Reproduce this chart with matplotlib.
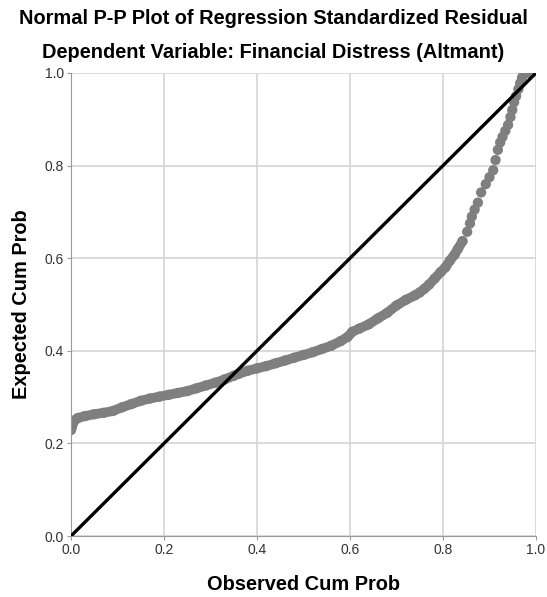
import numpy as np
import matplotlib
matplotlib.use("Agg")
import matplotlib.pyplot as plt

plt.rcParams['font.family'] = ['Liberation Sans', 'DejaVu Sans']

# observed vs expected cumulative probabilities
observed = [0.000, 0.002, 0.004, 0.008, 0.015, 0.03, 0.05, 0.07, 0.09, 0.11,
            0.13, 0.15, 0.17, 0.19, 0.21, 0.23, 0.25, 0.27, 0.29, 0.31,
            0.33, 0.35, 0.36, 0.38, 0.40, 0.42, 0.44, 0.46, 0.48, 0.50,
            0.52, 0.54, 0.56, 0.58, 0.595, 0.605, 0.62, 0.64, 0.66, 0.68,
            0.70, 0.72, 0.74, 0.75, 0.76, 0.770, 0.782, 0.795, 0.805, 0.815,
            0.825, 0.832, 0.842, 0.852, 0.858, 0.862, 0.868, 0.875, 0.882, 0.892,
            0.900, 0.908, 0.913, 0.918, 0.923, 0.928, 0.934, 0.940, 0.945, 0.949,
            0.953, 0.957, 0.962, 0.966, 0.970, 0.974, 0.980, 0.985]
expected = [0.229, 0.236, 0.243, 0.250, 0.255, 0.259, 0.263, 0.266, 0.270, 0.278,
            0.285, 0.292, 0.297, 0.301, 0.305, 0.309, 0.313, 0.319, 0.325, 0.331,
            0.338, 0.346, 0.350, 0.357, 0.362, 0.367, 0.373, 0.379, 0.385, 0.391,
            0.397, 0.404, 0.411, 0.421, 0.430, 0.441, 0.448, 0.457, 0.470, 0.482,
            0.498, 0.510, 0.520, 0.526, 0.534, 0.543, 0.556, 0.570, 0.580, 0.595,
            0.608, 0.620, 0.637, 0.657, 0.675, 0.690, 0.705, 0.720, 0.742, 0.760,
            0.775, 0.790, 0.812, 0.834, 0.850, 0.862, 0.875, 0.888, 0.905, 0.920,
            0.937, 0.950, 0.965, 0.978, 0.990, 1.000, 1.000, 1.000]
ticks = [0.0, 0.2, 0.4, 0.6, 0.8, 1.0]

obs = np.array(observed)
exp = np.array(expected)
dense = obs < 0.85

fig = plt.figure(figsize=(5.47, 5.97), dpi=100)
ax = fig.add_axes([71/547, 61/597, 465/547, 463/597])

ax.plot(obs[dense], exp[dense], color='#7f7f7f', lw=7, solid_capstyle='round', zorder=2)
ax.scatter(obs, exp, s=55, color='#7f7f7f', edgecolors='none', zorder=2)
ax.plot([0, 1], [0, 1], color='black', lw=2.4, zorder=3)

ax.set_xlim(0, 1)
ax.set_ylim(0, 1)
ax.set_xticks(ticks)
ax.set_yticks(ticks)
ax.set_xticklabels([f"{t:.1f}" for t in ticks])
ax.set_yticklabels([f"{t:.1f}" for t in ticks])
ax.grid(True, color='#d4d4d4', lw=1.2, zorder=0)
ax.set_axisbelow(True)
for s in ['top', 'right']:
    ax.spines[s].set_visible(False)
for s in ['left', 'bottom']:
    ax.spines[s].set_color('#9a9a9a')
ax.tick_params(axis='both', colors='#9a9a9a', labelcolor='#333333', labelsize=10, length=3, pad=2)

ax.set_xlabel("Observed Cum Prob", fontsize=14.4, fontweight='bold', labelpad=13)
ax.set_ylabel("Expected Cum Prob", fontsize=14.4, fontweight='bold', labelpad=10)

fig.text(0.5, 1 - 18/597, "Normal P-P Plot of Regression Standardized Residual",
         ha='center', va='center', fontsize=14.4, fontweight='bold')
fig.text(0.5, 1 - 52/597, "Dependent Variable: Financial Distress (Altmant)",
         ha='center', va='center', fontsize=14.4, fontweight='bold')

fig.savefig("out.png", dpi=100)
